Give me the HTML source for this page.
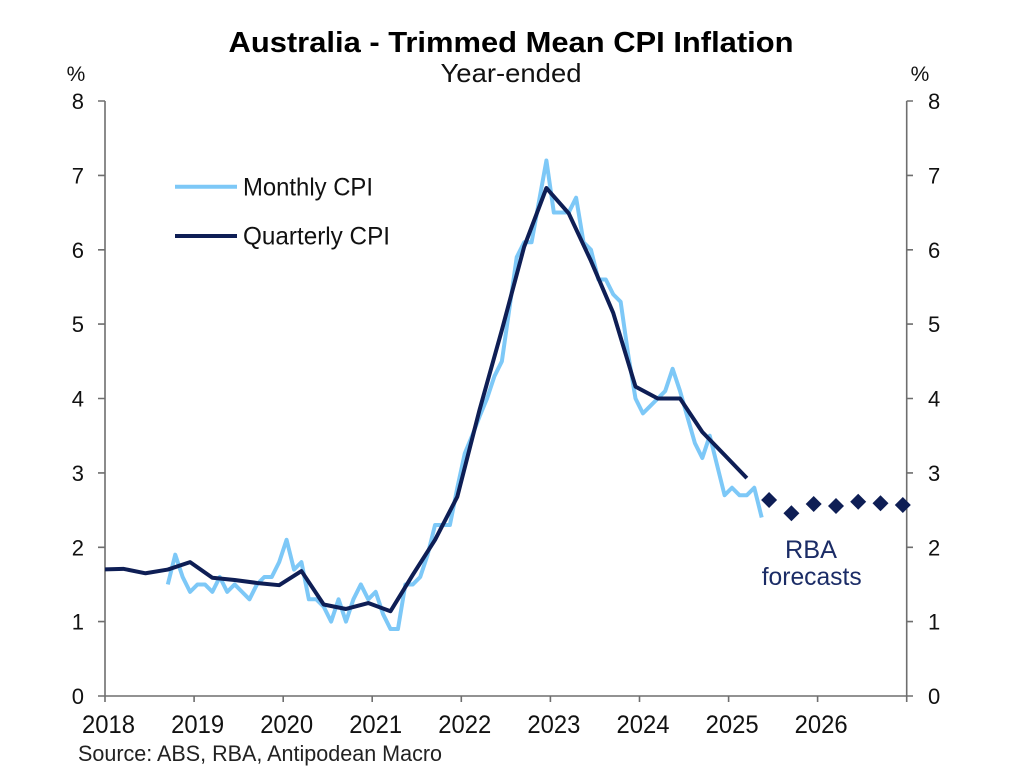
<!DOCTYPE html>
<html><head><meta charset="utf-8"><style>
html,body{margin:0;padding:0;background:#fff;}
svg{display:block;font-family:"Liberation Sans",Arial,sans-serif;}
</style></head><body>
<svg width="1024" height="783" viewBox="0 0 1024 783" xmlns="http://www.w3.org/2000/svg">
<rect width="1024" height="783" fill="#fff"/>
<defs><clipPath id="pc"><rect x="105" y="60" width="802" height="640"/></clipPath></defs>
<!-- titles -->
<text x="511" y="52" font-size="29" font-weight="bold" text-anchor="middle" textLength="565" lengthAdjust="spacingAndGlyphs" fill="#000">Australia - Trimmed Mean CPI Inflation</text>
<text x="511" y="82" font-size="26" text-anchor="middle" textLength="141" lengthAdjust="spacingAndGlyphs" fill="#111">Year-ended</text>
<text x="76" y="81" font-size="21" text-anchor="middle" fill="#111">%</text>
<text x="920" y="81" font-size="21" text-anchor="middle" fill="#111">%</text>
<!-- axes -->
<g stroke="#6e6e6e" stroke-width="1.6" fill="none">
<line x1="105" y1="101" x2="105" y2="696"/>
<line x1="906.7" y1="101" x2="906.7" y2="696"/>
<line x1="98" y1="696" x2="913" y2="696"/>
<path d="M98 101H105M98 175.4H105M98 249.8H105M98 324.1H105M98 398.5H105M98 472.9H105M98 547.3H105M98 621.6H105"/>
<path d="M906.7 101H913M906.7 175.4H913M906.7 249.8H913M906.7 324.1H913M906.7 398.5H913M906.7 472.9H913M906.7 547.3H913M906.7 621.6H913"/>
<path d="M105 696V702M194.1 696V702M283.2 696V702M372.2 696V702M461.3 696V702M550.4 696V702M639.5 696V702M728.6 696V702M817.6 696V702M906.7 696V702"/>
</g>
<!-- y labels -->
<g font-size="22" fill="#111" text-anchor="end">
<text x="84" y="109">8</text><text x="84" y="183.4">7</text><text x="84" y="257.8">6</text><text x="84" y="332.1">5</text><text x="84" y="406.5">4</text><text x="84" y="480.9">3</text><text x="84" y="555.3">2</text><text x="84" y="629.6">1</text><text x="84" y="704">0</text>
</g>
<g font-size="22" fill="#111" text-anchor="start">
<text x="928" y="109">8</text><text x="928" y="183.4">7</text><text x="928" y="257.8">6</text><text x="928" y="332.1">5</text><text x="928" y="406.5">4</text><text x="928" y="480.9">3</text><text x="928" y="555.3">2</text><text x="928" y="629.6">1</text><text x="928" y="704">0</text>
</g>
<!-- x labels -->
<g font-size="25" fill="#111" text-anchor="middle">
<text x="108.5" y="733" textLength="53" lengthAdjust="spacingAndGlyphs">2018</text>
<text x="197.6" y="733" textLength="53" lengthAdjust="spacingAndGlyphs">2019</text>
<text x="286.7" y="733" textLength="53" lengthAdjust="spacingAndGlyphs">2020</text>
<text x="375.7" y="733" textLength="53" lengthAdjust="spacingAndGlyphs">2021</text>
<text x="464.8" y="733" textLength="53" lengthAdjust="spacingAndGlyphs">2022</text>
<text x="553.9" y="733" textLength="53" lengthAdjust="spacingAndGlyphs">2023</text>
<text x="643" y="733" textLength="53" lengthAdjust="spacingAndGlyphs">2024</text>
<text x="732.1" y="733" textLength="53" lengthAdjust="spacingAndGlyphs">2025</text>
<text x="821.1" y="733" textLength="53" lengthAdjust="spacingAndGlyphs">2026</text>
</g>
<text x="78" y="761" font-size="22" fill="#222" textLength="364" lengthAdjust="spacingAndGlyphs">Source: ABS, RBA, Antipodean Macro</text>
<!-- legend -->
<line x1="175" y1="186.7" x2="237" y2="186.7" stroke="#7DC8F7" stroke-width="4"/>
<line x1="175" y1="236" x2="237" y2="236" stroke="#0E1E55" stroke-width="4"/>
<text x="243" y="195.5" font-size="25" fill="#111" textLength="130" lengthAdjust="spacingAndGlyphs">Monthly CPI</text>
<text x="243" y="244.5" font-size="25" fill="#111" textLength="147" lengthAdjust="spacingAndGlyphs">Quarterly CPI</text>
<!-- series -->
<g clip-path="url(#pc)" fill="none" stroke-linejoin="round" stroke-linecap="butt">
<polyline stroke="#7DC8F7" stroke-width="4" points="167.81,584.44 175.24,554.69 182.66,577 190.08,591.88 197.51,584.44 204.93,584.44 212.35,591.88 219.78,577 227.2,591.88 234.62,584.44 242.05,591.88 249.47,599.31 256.9,584.44 264.32,577 271.74,577 279.17,562.13 286.59,539.81 294.01,569.56 301.44,562.13 308.86,599.31 316.28,599.31 323.71,606.75 331.13,621.63 338.56,599.31 345.98,621.63 353.4,599.31 360.83,584.44 368.25,599.31 375.67,591.88 383.1,614.19 390.52,629.06 397.94,629.06 405.37,584.44 412.79,584.44 420.21,577 427.64,554.69 435.06,524.94 442.49,524.94 449.91,524.94 457.33,487.75 464.76,453.54 472.18,435.69 479.6,416.35 487.03,398.5 494.45,376.19 501.87,361.31 509.3,309.25 516.72,257.19 524.15,242.31 531.57,242.31 538.99,201.41 546.42,160.5 553.84,212.56 561.26,212.56 568.69,212.56 576.11,197.69 583.53,242.31 590.96,249.75 598.38,279.5 605.8,279.5 613.23,294.38 620.65,301.81 628.08,353.88 635.5,398.5 642.92,413.38 650.35,405.94 657.77,398.5 665.19,391.06 672.62,368.75 680.04,391.06 687.46,417.09 694.89,443.13 702.31,458 709.74,435.69 717.16,465.44 724.58,495.19 732.01,487.75 739.43,495.19 746.85,495.19 754.28,487.75 761.7,517.5"/>
<polyline stroke="#0E1E55" stroke-width="4" points="101,569.56 123.27,568.82 145.54,573.28 167.81,569.56 190.08,562.13 212.35,577.74 234.62,579.98 256.9,582.95 279.17,585.18 301.44,571.05 323.71,604.52 345.98,608.98 368.25,603.03 390.52,611.21 412.79,574.77 435.06,539.81 457.33,496.67 479.6,409.66 501.87,330.07 524.15,246.77 546.42,188.02 568.69,213.31 590.96,260.91 613.23,312.97 635.5,386.6 657.77,398.5 680.04,398.5 702.31,431.97 724.58,455.03 746.85,478.08"/>
</g>
<!-- forecasts diamonds -->
<g fill="#0E1E55">
<polygon points="769.1,492 777.1,500 769.1,508 761.1,500"/>
<polygon points="791.4,505.3 799.4,513.3 791.4,521.3 783.4,513.3"/>
<polygon points="813.7,496 821.7,504 813.7,512 805.7,504"/>
<polygon points="836,498 844,506 836,514 828,506"/>
<polygon points="858.2,493.7 866.2,501.7 858.2,509.7 850.2,501.7"/>
<polygon points="880.5,495.3 888.5,503.3 880.5,511.3 872.5,503.3"/>
<polygon points="902.8,497 910.8,505 902.8,513 894.8,505"/>
</g>
<text x="811" y="558" font-size="25" fill="#1B2C66" text-anchor="middle" textLength="52" lengthAdjust="spacingAndGlyphs">RBA</text>
<text x="811.7" y="585" font-size="25" fill="#1B2C66" text-anchor="middle" textLength="100" lengthAdjust="spacingAndGlyphs">forecasts</text>
</svg>
</body></html>
